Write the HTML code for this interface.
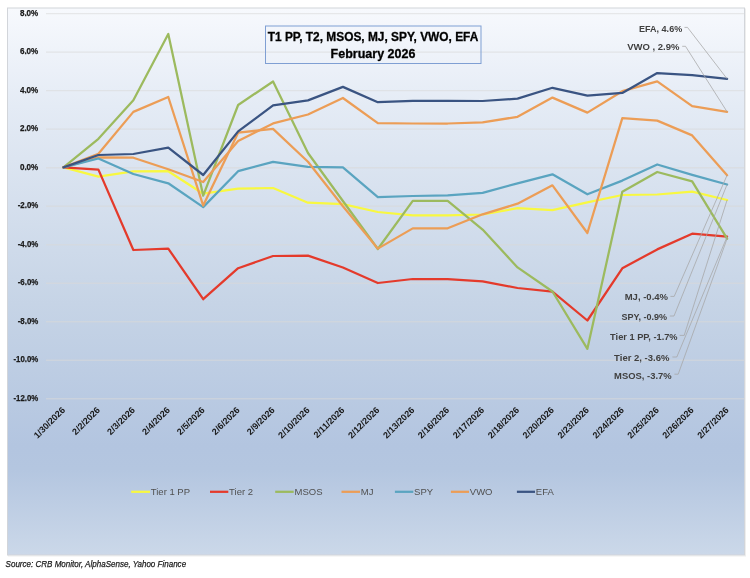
<!DOCTYPE html><html><head><meta charset="utf-8"><style>html,body{margin:0;padding:0;background:#fff;}#w{width:750px;height:578px;overflow:hidden;will-change:transform;}svg{display:block;}text{font-family:"Liberation Sans", sans-serif;}</style></head><body><div id="w">
<svg width="750" height="578" viewBox="0 0 750 578">
<defs><linearGradient id="bg" x1="0" y1="0" x2="0" y2="1">
<stop offset="0" stop-color="#f7f9fd"/>
<stop offset="0.18" stop-color="#e4ebf5"/>
<stop offset="0.54" stop-color="#c6d4e6"/>
<stop offset="0.8" stop-color="#b3c5e0"/>
<stop offset="0.845" stop-color="#b4c6e0"/>
<stop offset="1" stop-color="#cbd8e9"/>
</linearGradient></defs>
<rect x="8.5" y="9" width="737" height="547" fill="none" stroke="#eeeeee" stroke-width="1"/>
<rect x="7.5" y="8" width="737" height="547" fill="url(#bg)" stroke="#d2d5da" stroke-width="1"/>
<line x1="46" y1="13.60" x2="744" y2="13.60" stroke="#d9d9d9" stroke-opacity="0.55" stroke-width="1.4"/>
<text x="38.3" y="15.60" text-anchor="end" font-size="9" font-weight="bold" fill="#1a1a1a" stroke="#1a1a1a" stroke-width="0.25" textLength="18.4" lengthAdjust="spacingAndGlyphs">8.0%</text>
<line x1="46" y1="52.12" x2="744" y2="52.12" stroke="#d9d9d9" stroke-opacity="0.55" stroke-width="1.4"/>
<text x="38.3" y="54.12" text-anchor="end" font-size="9" font-weight="bold" fill="#1a1a1a" stroke="#1a1a1a" stroke-width="0.25" textLength="18.4" lengthAdjust="spacingAndGlyphs">6.0%</text>
<line x1="46" y1="90.64" x2="744" y2="90.64" stroke="#d9d9d9" stroke-opacity="0.55" stroke-width="1.4"/>
<text x="38.3" y="92.64" text-anchor="end" font-size="9" font-weight="bold" fill="#1a1a1a" stroke="#1a1a1a" stroke-width="0.25" textLength="18.4" lengthAdjust="spacingAndGlyphs">4.0%</text>
<line x1="46" y1="129.16" x2="744" y2="129.16" stroke="#d9d9d9" stroke-opacity="0.55" stroke-width="1.4"/>
<text x="38.3" y="131.16" text-anchor="end" font-size="9" font-weight="bold" fill="#1a1a1a" stroke="#1a1a1a" stroke-width="0.25" textLength="18.4" lengthAdjust="spacingAndGlyphs">2.0%</text>
<line x1="46" y1="167.68" x2="744" y2="167.68" stroke="#d9d9d9" stroke-opacity="0.55" stroke-width="1.4"/>
<text x="38.3" y="169.68" text-anchor="end" font-size="9" font-weight="bold" fill="#1a1a1a" stroke="#1a1a1a" stroke-width="0.25" textLength="18.4" lengthAdjust="spacingAndGlyphs">0.0%</text>
<line x1="46" y1="206.20" x2="744" y2="206.20" stroke="#d9d9d9" stroke-opacity="0.55" stroke-width="1.4"/>
<text x="38.3" y="208.20" text-anchor="end" font-size="9" font-weight="bold" fill="#1a1a1a" stroke="#1a1a1a" stroke-width="0.25" textLength="20.6" lengthAdjust="spacingAndGlyphs">-2.0%</text>
<line x1="46" y1="244.72" x2="744" y2="244.72" stroke="#d9d9d9" stroke-opacity="0.55" stroke-width="1.4"/>
<text x="38.3" y="246.72" text-anchor="end" font-size="9" font-weight="bold" fill="#1a1a1a" stroke="#1a1a1a" stroke-width="0.25" textLength="20.6" lengthAdjust="spacingAndGlyphs">-4.0%</text>
<line x1="46" y1="283.24" x2="744" y2="283.24" stroke="#d9d9d9" stroke-opacity="0.55" stroke-width="1.4"/>
<text x="38.3" y="285.24" text-anchor="end" font-size="9" font-weight="bold" fill="#1a1a1a" stroke="#1a1a1a" stroke-width="0.25" textLength="20.6" lengthAdjust="spacingAndGlyphs">-6.0%</text>
<line x1="46" y1="321.76" x2="744" y2="321.76" stroke="#d9d9d9" stroke-opacity="0.55" stroke-width="1.4"/>
<text x="38.3" y="323.76" text-anchor="end" font-size="9" font-weight="bold" fill="#1a1a1a" stroke="#1a1a1a" stroke-width="0.25" textLength="20.6" lengthAdjust="spacingAndGlyphs">-8.0%</text>
<line x1="46" y1="360.28" x2="744" y2="360.28" stroke="#d9d9d9" stroke-opacity="0.55" stroke-width="1.4"/>
<text x="38.3" y="362.28" text-anchor="end" font-size="9" font-weight="bold" fill="#1a1a1a" stroke="#1a1a1a" stroke-width="0.25" textLength="24.8" lengthAdjust="spacingAndGlyphs">-10.0%</text>
<line x1="46" y1="398.80" x2="744" y2="398.80" stroke="#d9d9d9" stroke-opacity="0.55" stroke-width="1.4"/>
<text x="38.3" y="400.80" text-anchor="end" font-size="9" font-weight="bold" fill="#1a1a1a" stroke="#1a1a1a" stroke-width="0.25" textLength="24.8" lengthAdjust="spacingAndGlyphs">-12.0%</text>
<text transform="translate(65.70,410.6) rotate(-45)" text-anchor="end" font-size="9" font-weight="bold" fill="#1a1a1a">1/30/2026</text>
<text transform="translate(100.63,410.6) rotate(-45)" text-anchor="end" font-size="9" font-weight="bold" fill="#1a1a1a">2/2/2026</text>
<text transform="translate(135.55,410.6) rotate(-45)" text-anchor="end" font-size="9" font-weight="bold" fill="#1a1a1a">2/3/2026</text>
<text transform="translate(170.48,410.6) rotate(-45)" text-anchor="end" font-size="9" font-weight="bold" fill="#1a1a1a">2/4/2026</text>
<text transform="translate(205.40,410.6) rotate(-45)" text-anchor="end" font-size="9" font-weight="bold" fill="#1a1a1a">2/5/2026</text>
<text transform="translate(240.33,410.6) rotate(-45)" text-anchor="end" font-size="9" font-weight="bold" fill="#1a1a1a">2/6/2026</text>
<text transform="translate(275.26,410.6) rotate(-45)" text-anchor="end" font-size="9" font-weight="bold" fill="#1a1a1a">2/9/2026</text>
<text transform="translate(310.18,410.6) rotate(-45)" text-anchor="end" font-size="9" font-weight="bold" fill="#1a1a1a">2/10/2026</text>
<text transform="translate(345.11,410.6) rotate(-45)" text-anchor="end" font-size="9" font-weight="bold" fill="#1a1a1a">2/11/2026</text>
<text transform="translate(380.03,410.6) rotate(-45)" text-anchor="end" font-size="9" font-weight="bold" fill="#1a1a1a">2/12/2026</text>
<text transform="translate(414.96,410.6) rotate(-45)" text-anchor="end" font-size="9" font-weight="bold" fill="#1a1a1a">2/13/2026</text>
<text transform="translate(449.89,410.6) rotate(-45)" text-anchor="end" font-size="9" font-weight="bold" fill="#1a1a1a">2/16/2026</text>
<text transform="translate(484.81,410.6) rotate(-45)" text-anchor="end" font-size="9" font-weight="bold" fill="#1a1a1a">2/17/2026</text>
<text transform="translate(519.74,410.6) rotate(-45)" text-anchor="end" font-size="9" font-weight="bold" fill="#1a1a1a">2/18/2026</text>
<text transform="translate(554.66,410.6) rotate(-45)" text-anchor="end" font-size="9" font-weight="bold" fill="#1a1a1a">2/20/2026</text>
<text transform="translate(589.59,410.6) rotate(-45)" text-anchor="end" font-size="9" font-weight="bold" fill="#1a1a1a">2/23/2026</text>
<text transform="translate(624.52,410.6) rotate(-45)" text-anchor="end" font-size="9" font-weight="bold" fill="#1a1a1a">2/24/2026</text>
<text transform="translate(659.44,410.6) rotate(-45)" text-anchor="end" font-size="9" font-weight="bold" fill="#1a1a1a">2/25/2026</text>
<text transform="translate(694.37,410.6) rotate(-45)" text-anchor="end" font-size="9" font-weight="bold" fill="#1a1a1a">2/26/2026</text>
<text transform="translate(729.29,410.6) rotate(-45)" text-anchor="end" font-size="9" font-weight="bold" fill="#1a1a1a">2/27/2026</text>
<rect x="265.5" y="26" width="215.5" height="37.5" fill="none" stroke="#7f9fd3" stroke-width="1"/>
<text x="373" y="41.3" text-anchor="middle" font-size="12.5" font-weight="bold" fill="#000" stroke="#000" stroke-width="0.3" textLength="210.5" lengthAdjust="spacingAndGlyphs">T1 PP, T2, MSOS, MJ, SPY, VWO, EFA</text>
<text x="373" y="58.3" text-anchor="middle" font-size="12.5" font-weight="bold" fill="#000" stroke="#000" stroke-width="0.3">February 2026</text>
<polyline points="63.50,167.40 98.43,176.70 133.35,171.40 168.28,171.20 203.20,193.70 238.13,188.60 273.06,188.00 307.98,202.70 342.91,204.20 377.83,212.00 412.76,215.30 447.69,215.40 482.61,214.50 517.54,208.20 552.46,210.10 587.39,202.30 622.32,195.00 657.24,194.50 692.17,191.70 727.09,200.00" fill="none" stroke="#f8f840" stroke-width="2.25" stroke-linejoin="round" stroke-linecap="round"/>
<polyline points="63.50,167.40 98.43,169.60 133.35,250.00 168.28,248.60 203.20,299.20 238.13,268.20 273.06,256.00 307.98,255.60 342.91,267.50 377.83,283.00 412.76,279.00 447.69,279.10 482.61,281.30 517.54,288.00 552.46,291.70 587.39,320.50 622.32,268.30 657.24,249.40 692.17,233.70 727.09,236.70" fill="none" stroke="#e43a2b" stroke-width="2.25" stroke-linejoin="round" stroke-linecap="round"/>
<polyline points="63.50,167.40 98.43,138.80 133.35,100.30 168.28,34.00 203.20,195.70 238.13,105.00 273.06,81.50 307.98,153.00 342.91,201.00 377.83,249.00 412.76,200.90 447.69,200.90 482.61,229.60 517.54,267.40 552.46,291.50 587.39,348.80 622.32,191.70 657.24,172.00 692.17,181.30 727.09,238.70" fill="none" stroke="#9cba5e" stroke-width="2.25" stroke-linejoin="round" stroke-linecap="round"/>
<polyline points="63.50,167.40 98.43,157.30 133.35,157.70 168.28,169.30 203.20,182.00 238.13,141.00 273.06,123.40 307.98,114.50 342.91,98.00 377.83,123.20 412.76,123.50 447.69,123.50 482.61,122.40 517.54,116.80 552.46,97.60 587.39,112.60 622.32,91.20 657.24,81.30 692.17,106.20 727.09,111.80" fill="none" stroke="#ec9d56" stroke-width="2.25" stroke-linejoin="round" stroke-linecap="round"/>
<polyline points="63.50,167.40 98.43,158.50 133.35,174.00 168.28,183.30 203.20,207.10 238.13,171.20 273.06,161.80 307.98,166.80 342.91,167.30 377.83,197.20 412.76,196.00 447.69,195.40 482.61,192.80 517.54,183.30 552.46,174.30 587.39,194.30 622.32,180.60 657.24,164.50 692.17,174.90 727.09,184.50" fill="none" stroke="#5aa4c0" stroke-width="2.25" stroke-linejoin="round" stroke-linecap="round"/>
<polyline points="63.50,167.40 98.43,153.80 133.35,111.90 168.28,97.00 203.20,205.60 238.13,132.70 273.06,128.90 307.98,161.70 342.91,206.30 377.83,248.60 412.76,228.40 447.69,228.30 482.61,214.30 517.54,203.70 552.46,185.30 587.39,233.00 622.32,118.20 657.24,120.60 692.17,135.40 727.09,175.20" fill="none" stroke="#ec9d56" stroke-width="2.25" stroke-linejoin="round" stroke-linecap="round"/>
<polyline points="63.50,167.40 98.43,155.00 133.35,154.00 168.28,147.60 203.20,175.00 238.13,131.40 273.06,105.30 307.98,100.40 342.91,86.90 377.83,102.20 412.76,100.80 447.69,100.80 482.61,101.00 517.54,98.60 552.46,87.80 587.39,95.60 622.32,92.90 657.24,73.10 692.17,75.20 727.09,78.80" fill="none" stroke="#3a5482" stroke-width="2.25" stroke-linejoin="round" stroke-linecap="round"/>
<polyline points="684.5,27.4 687.5,27.4 727.09,78.80" fill="none" stroke="#a6a6a6" stroke-width="0.75"/>
<text x="682.2" y="31.90" text-anchor="end" font-size="9.5" font-weight="bold" fill="#404040" textLength="43.2" lengthAdjust="spacingAndGlyphs">EFA, 4.6%</text>
<polyline points="682.2,46.3 685.5,46.3 727.09,111.80" fill="none" stroke="#a6a6a6" stroke-width="0.75"/>
<text x="679.4" y="50.00" text-anchor="end" font-size="9.5" font-weight="bold" fill="#404040">VWO , 2.9%</text>
<polyline points="670.4,296.4 674.2,296.4 727.09,175.20" fill="none" stroke="#a6a6a6" stroke-width="0.75"/>
<text x="668.0" y="300.20" text-anchor="end" font-size="9.5" font-weight="bold" fill="#404040">MJ, -0.4%</text>
<polyline points="669.8,316.0 674.0,316.0 727.09,184.50" fill="none" stroke="#a6a6a6" stroke-width="0.75"/>
<text x="667.0" y="320.00" text-anchor="end" font-size="9.5" font-weight="bold" fill="#404040" textLength="45.6" lengthAdjust="spacingAndGlyphs">SPY, -0.9%</text>
<polyline points="679.6,335.4 684.2,335.4 727.09,200.00" fill="none" stroke="#a6a6a6" stroke-width="0.75"/>
<text x="677.6" y="339.60" text-anchor="end" font-size="9.5" font-weight="bold" fill="#404040" textLength="67.5" lengthAdjust="spacingAndGlyphs">Tier 1 PP, -1.7%</text>
<polyline points="672.4,357.0 676.8,357.0 727.09,236.70" fill="none" stroke="#a6a6a6" stroke-width="0.75"/>
<text x="669.4" y="360.80" text-anchor="end" font-size="9.5" font-weight="bold" fill="#404040">Tier 2, -3.6%</text>
<polyline points="674.4,374.2 678.2,374.2 727.09,238.70" fill="none" stroke="#a6a6a6" stroke-width="0.75"/>
<text x="671.6" y="378.60" text-anchor="end" font-size="9.5" font-weight="bold" fill="#404040" textLength="57.5" lengthAdjust="spacingAndGlyphs">MSOS, -3.7%</text>
<line x1="131.2" y1="491.8" x2="150" y2="491.8" stroke="#f8f840" stroke-width="2.25"/>
<text x="150.8" y="495" font-size="9.5" fill="#505050">Tier 1 PP</text>
<line x1="210" y1="491.8" x2="228.3" y2="491.8" stroke="#e43a2b" stroke-width="2.25"/>
<text x="229.10000000000002" y="495" font-size="9.5" fill="#505050">Tier 2</text>
<line x1="275.2" y1="491.8" x2="293.7" y2="491.8" stroke="#9cba5e" stroke-width="2.25"/>
<text x="294.5" y="495" font-size="9.5" fill="#505050">MSOS</text>
<line x1="341.5" y1="491.8" x2="360" y2="491.8" stroke="#ec9d56" stroke-width="2.25"/>
<text x="360.8" y="495" font-size="9.5" fill="#505050">MJ</text>
<line x1="394.9" y1="491.8" x2="413.3" y2="491.8" stroke="#5aa4c0" stroke-width="2.25"/>
<text x="414.1" y="495" font-size="9.5" fill="#505050">SPY</text>
<line x1="450.9" y1="491.8" x2="469" y2="491.8" stroke="#ec9d56" stroke-width="2.25"/>
<text x="469.8" y="495" font-size="9.5" fill="#505050">VWO</text>
<line x1="516.9" y1="491.8" x2="535" y2="491.8" stroke="#3a5482" stroke-width="2.25"/>
<text x="535.8" y="495" font-size="9.5" fill="#505050">EFA</text>
<text x="5.6" y="566.8" font-size="9" font-style="italic" fill="#1a1a1a" stroke="#1a1a1a" stroke-width="0.25" textLength="180.5" lengthAdjust="spacingAndGlyphs">Source: CRB Monitor, AlphaSense, Yahoo Finance</text>
</svg></div></body></html>
